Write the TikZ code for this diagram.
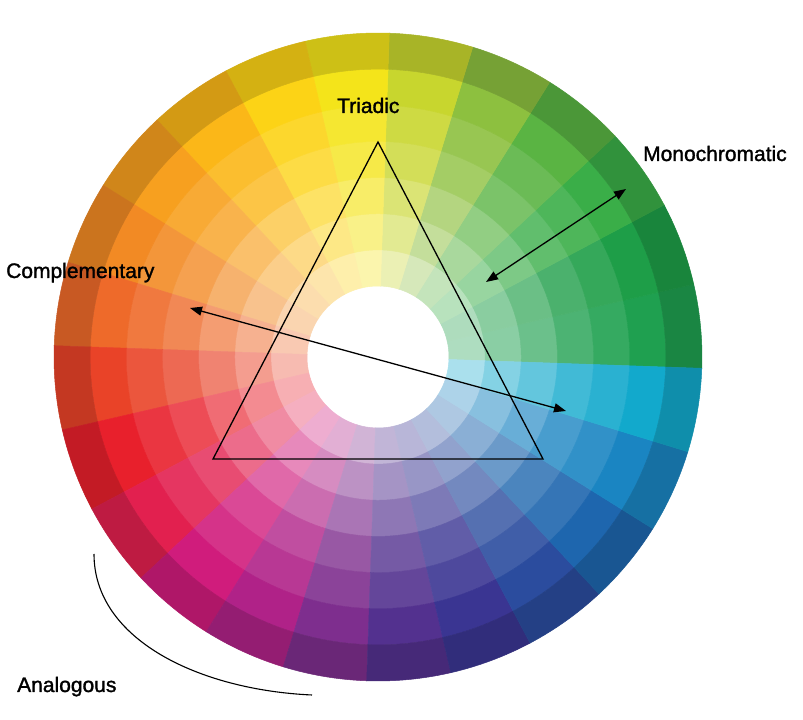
\documentclass[tikz,border=0pt]{standalone}
\usepackage{fontspec}
\setmainfont{Liberation Sans}
\newfontfamily\heavysans[FakeBold=1.4]{Liberation Sans}
\usetikzlibrary{arrows.meta}

% hue of each of the 24 sectors, counterclockwise from the east
\definecolor{hue0}{HTML}{1FA050}
\definecolor{hue1}{HTML}{1E9E48}
\definecolor{hue2}{HTML}{3AAE48}
\definecolor{hue3}{HTML}{5AB443}
\definecolor{hue4}{HTML}{8DC03F}
\definecolor{hue5}{HTML}{C8D62E}
\definecolor{hue6}{HTML}{F4E41A}
\definecolor{hue7}{HTML}{FCD316}
\definecolor{hue8}{HTML}{FBB718}
\definecolor{hue9}{HTML}{F7A01F}
\definecolor{hue10}{HTML}{F28A24}
\definecolor{hue11}{HTML}{EE6A2A}
\definecolor{hue12}{HTML}{E94328}
\definecolor{hue13}{HTML}{E8202C}
\definecolor{hue14}{HTML}{E2204F}
\definecolor{hue15}{HTML}{D01C7C}
\definecolor{hue16}{HTML}{B02288}
\definecolor{hue17}{HTML}{7E2E8E}
\definecolor{hue18}{HTML}{53318F}
\definecolor{hue19}{HTML}{3A3592}
\definecolor{hue20}{HTML}{2B4C9E}
\definecolor{hue21}{HTML}{1E66AE}
\definecolor{hue22}{HTML}{1A85C2}
\definecolor{hue23}{HTML}{12A9CC}

\tikzset{
  wheeltext/.style={anchor=base west, inner sep=0pt, font=\heavysans\fontsize{21}{25}\selectfont},
  cell/.style={line width=0.5pt},
  guide/.style={line width=1.3pt},
  twoway/.style={guide, {Triangle[length=12pt,width=9pt]}-{Triangle[length=12pt,width=9pt]}}
}

\begin{document}
\begin{tikzpicture}[x=1pt,y=1pt]
    \useasboundingbox (0,0) rectangle (803,720);
    \fill[white] (0,0) rectangle (803,720);
    % colour wheel, 24 sectors and 7 rings
    \begin{scope}[shift={(378,363)}]
      \foreach \k in {0,...,23} {
        \foreach \r/\p/\m in {0/36/white,1/52/white,2/66/white,3/80/white,4/90/white,5/100/white,6/84/black} {
          \pgfmathsetmacro\a{-2+15*\k}
          \pgfmathsetmacro\b{\a+15}
          \pgfmathsetmacro\ri{71+36.14*\r}
          \pgfmathsetmacro\ro{\ri+36.14}
          \filldraw[cell, hue\k!\p!\m] (\a:\ri) arc[start angle=\a, end angle=\b, radius=\ri]
            -- (\b:\ro) arc[start angle=\b, end angle=\a, radius=\ro] -- cycle;
        }
      }
    \end{scope}
    % triadic triangle
    \coordinate (apex) at (378,578);
    \coordinate (leftcorner) at (213,261);
    \coordinate (rightcorner) at (543,261);
    \draw[guide] (apex) -- (leftcorner) -- (rightcorner) -- cycle;
    % complementary and monochromatic arrows
    \coordinate (warm) at (190,412);
    \coordinate (cool) at (566,309);
    \draw[twoway] (warm) -- (cool);
    \coordinate (pale) at (486,438);
    \coordinate (deep) at (626,531);
    \draw[twoway] (pale) -- (deep);
    % analogous arc
    \coordinate (arcstart) at (94,166);
    \coordinate (arcend) at (312,25);
    \draw[line width=1.1pt] (arcstart) .. controls (94,80) and (200,30) .. (arcend);
    % scheme labels
    \node (triadic) at (337,607) [wheeltext] {Triadic};
    \node (monochromatic) at (643,559) [wheeltext] {Monochromatic};
    \node (complementary) at (6,442) [wheeltext] {Complementary};
    \node (analogous) at (17,28) [wheeltext] {Analogous};
\end{tikzpicture}
\end{document}
